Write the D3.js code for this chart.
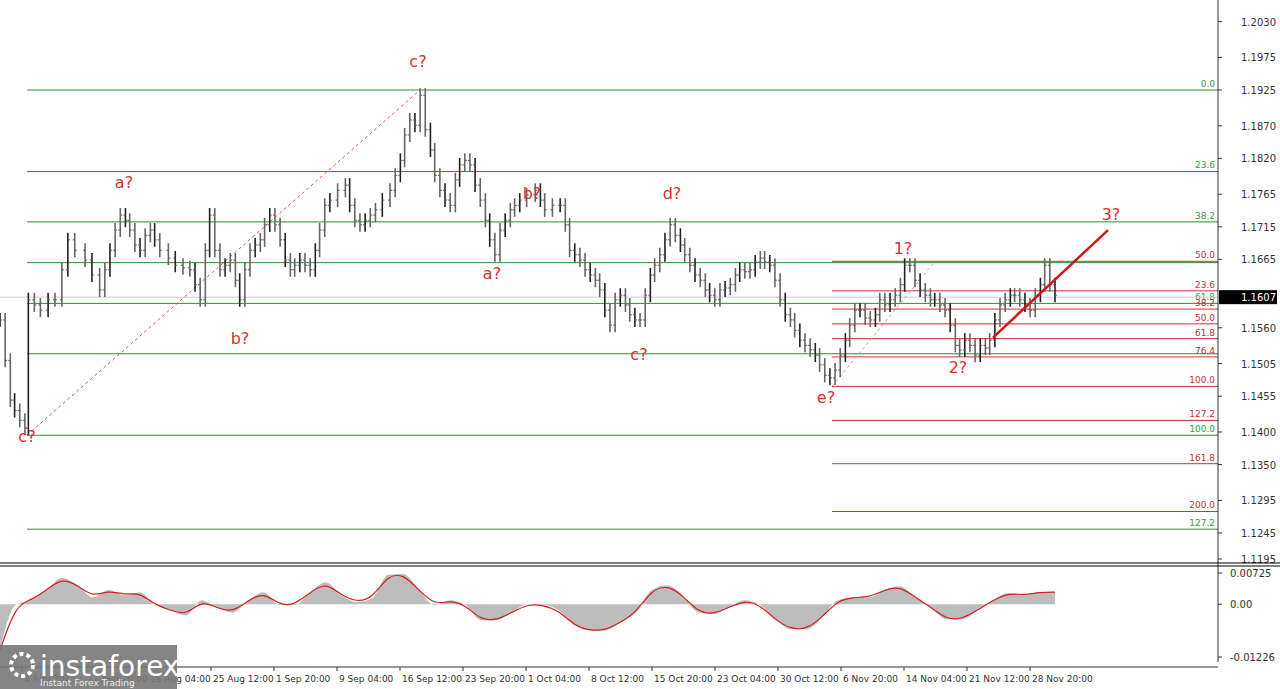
<!DOCTYPE html>
<html><head><meta charset="utf-8">
<script src="https://cdn.jsdelivr.net/npm/d3@7"></script>
<style>body{margin:0;background:#fff}text{font-family:Tahoma,"DejaVu Sans",sans-serif}</style>
</head><body><svg id="chart" width="1280" height="689"></svg>
<script>
// bar times in days since 1 Aug 2025 and closing prices
var barDays = [0,0.6,1.2,1.7,2.3,2.9,3.3,4.0,4.7,5.6,6.4,7.2,7.9,8.7,9.9,10.7,11.6,12.2,12.8,13.4,14.0,14.6,15.1,15.7,16.3,16.9,17.5,18.0,18.6,19.6,20.4,21.3,22.1,22.7,23.3,23.9,24.4,25.0,25.6,26.2,26.8,27.4,27.9,28.5,29.1,29.7,30.3,30.8,31.4,32.0,32.6,33.2,33.8,34.3,34.9,35.5,36.1,36.7,37.2,37.8,38.4,39.3,40.2,40.7,41.3,41.9,42.5,43.1,43.7,44.5,45.4,46.0,46.6,47.1,47.7,48.3,48.9,49.5,50.1,50.6,51.2,51.8,52.4,53.0,53.5,54.1,54.7,55.3,55.9,56.5,57.0,57.6,58.2,58.8,59.4,59.9,60.5,61.3,62.3,62.9,63.4,64.3,65.2,65.8,66.3,66.9,67.5,68.1,68.7,69.3,69.8,70.4,71.0,71.6,72.2,72.8,73.3,73.9,74.5,75.1,75.7,76.2,76.8,77.4,78.0,78.6,79.2,79.7,80.3,80.9,81.5,82.1,82.6,83.2,83.8,84.4,85.0,85.6,86.1,86.7,87.3,87.9,88.5,89.0,89.6,90.2,90.8,91.4,92.0,92.5,93.1,93.7,94.3,94.9,95.4,96.0,96.6,97.2,97.8,98.4,98.9,99.5,100.1,100.7,101.3,101.9,102.4,103.0,103.6,104.2,104.8,105.3,105.9,106.5,107.1,107.7,108.3,108.8,109.4,110.0,110.6,111.2,111.7,112.3,112.9,113.5,114.1,114.7,115.2,115.8,116.4,117.0,117.6,118.1,118.7,119.3,119.9,120.5,121.1,121.6,122.2,122.8];
var closes = [1.1572,1.1510,1.1449,1.1433,1.1418,1.1406,1.1603,1.1595,1.1587,1.1603,1.1603,1.1649,1.1695,1.1679,1.1664,1.1641,1.1618,1.1649,1.1679,1.1710,1.1733,1.1725,1.1710,1.1687,1.1679,1.1702,1.1710,1.1695,1.1679,1.1667,1.1656,1.1652,1.1649,1.1626,1.1603,1.1679,1.1733,1.1679,1.1649,1.1656,1.1664,1.1633,1.1603,1.1649,1.1679,1.1687,1.1695,1.1718,1.1733,1.1718,1.1695,1.1664,1.1649,1.1656,1.1664,1.1656,1.1649,1.1679,1.1710,1.1748,1.1756,1.1771,1.1779,1.1748,1.1725,1.1718,1.1725,1.1733,1.1741,1.1756,1.1771,1.1794,1.1817,1.1856,1.1879,1.1871,1.1917,1.1864,1.1833,1.1794,1.1771,1.1756,1.1748,1.1787,1.1810,1.1817,1.1810,1.1779,1.1756,1.1725,1.1695,1.1672,1.1710,1.1725,1.1741,1.1748,1.1756,1.1764,1.1771,1.1756,1.1741,1.1748,1.1748,1.1718,1.1679,1.1672,1.1664,1.1649,1.1641,1.1633,1.1618,1.1587,1.1564,1.1603,1.1610,1.1595,1.1580,1.1572,1.1572,1.1610,1.1641,1.1656,1.1672,1.1695,1.1718,1.1702,1.1687,1.1672,1.1656,1.1641,1.1633,1.1618,1.1610,1.1603,1.1618,1.1621,1.1626,1.1641,1.1649,1.1646,1.1649,1.1661,1.1667,1.1661,1.1656,1.1633,1.1603,1.1580,1.1572,1.1556,1.1541,1.1533,1.1526,1.1518,1.1503,1.1487,1.1483,1.1495,1.1518,1.1541,1.1564,1.1587,1.1587,1.1575,1.1572,1.1580,1.1603,1.1595,1.1603,1.1610,1.1626,1.1656,1.1656,1.1633,1.1618,1.1610,1.1603,1.1603,1.1595,1.1587,1.1564,1.1533,1.1526,1.1541,1.1533,1.1518,1.1533,1.1529,1.1541,1.1572,1.1595,1.1603,1.1610,1.1610,1.1603,1.1595,1.1587,1.1610,1.1626,1.1656,1.1626,1.1610];
var osc = [-0.0107,-0.0002,0.0009,0.0033,0.0061,0.0044,0.0016,0.0033,0.0021,0.0028,-0.0002,-0.0014,-0.0026,0.0009,-0.0009,-0.0019,0.0009,0.0028,-0.0002,-0.0002,0.0028,0.0051,0.0021,0.0005,0.0014,0.0068,0.0070,0.0033,-0.0002,0.0009,-0.0002,-0.0037,-0.0037,-0.0019,0.0000,-0.0002,-0.0014,-0.0049,-0.0061,-0.0061,-0.0042,-0.0019,0.0033,0.0044,0.0021,-0.0019,-0.0023,-0.0007,0.0009,-0.0002,-0.0037,-0.0058,-0.0058,-0.0030,0.0009,0.0016,0.0016,0.0033,0.0042,0.0016,-0.0007,-0.0035,-0.0035,-0.0014,0.0009,0.0026,0.0021,0.0028,0.0028];
var priceTicks = [1.2030,1.1975,1.1925,1.1870,1.1820,1.1765,1.1715,1.1665,1.1560,1.1505,1.1455,1.1400,1.1350,1.1295,1.1245,1.1195];
var dateTicks = ["4 Aug 2025","11 Aug 20:00","18 Aug 04:00","25 Aug 12:00","1 Sep 20:00","9 Sep 04:00","16 Sep 12:00","23 Sep 20:00","1 Oct 04:00","8 Oct 12:00","15 Oct 20:00","23 Oct 04:00","30 Oct 12:00","6 Nov 20:00","14 Nov 04:00","21 Nov 12:00","28 Nov 20:00"];
var bigFibLevels = [0,23.6,38.2,50,61.8,76.4,100,127.2];
var bigFibLabels = ["0.0","23.6","38.2","","61.8","","100.0","127.2"];
var bigFibFrom = 1.1925, bigFibTo = 1.1395;
var smallFibLevels = [0,23.6,38.2,50,61.8,76.4,100,127.2,161.8,200];
var smallFibFrom = 1.1662, smallFibTo = 1.1470;
var waves = [["c?",1.1960,418],["a?",1.1775,124],["b?",1.1535,240],["b?",1.1758,532],["a?",1.1635,492],["d?",1.1758,672],["c?",1.1510,639],["e?",1.1445,826],["c?",1.1385,27],["1?",1.1673,903],["2?",1.1490,958],["3?",1.1725,1111]];
var lastPrice = 1.1607;

var svg = d3.select("#chart");
var W = 1218;
var y = d3.scaleLinear().domain([1.1925,1.1400]).range([90,432]);
var yo = d3.scaleLinear().domain([0.00725,-0.01226]).range([573,657]);
var x = d3.scaleLinear().domain([0,122.8]).range([0,1055]);
var xo = d3.scaleLinear().domain([0, osc.length-1]).range([0,1055]);
var xd = d3.scaleLinear().domain([0,dateTicks.length-1]).range([22,22+63*16]);

// fib lines
var pb = bigFibLevels.map(l => bigFibFrom + (bigFibTo-bigFibFrom)*l/100);
svg.selectAll(".gf").data(pb).enter().append("line")
  .attr("x1",27).attr("x2",W).attr("y1",d=>y(d)).attr("y2",d=>y(d)).attr("stroke","#2e8b2e");
svg.selectAll(".gft").data(pb).enter().append("text").attr("x",W-3).attr("y",(d)=>y(d)-3)
  .attr("text-anchor","end").attr("font-size",9).attr("fill","#3a9a3a").text((d,i)=>bigFibLabels[i]);
var ps = smallFibLevels.map(l => smallFibFrom + (smallFibTo-smallFibFrom)*l/100);
svg.selectAll(".rf").data(ps).enter().append("line")
  .attr("x1",832).attr("x2",W).attr("y1",d=>y(d)).attr("y2",d=>y(d)).attr("stroke","#d03030");
svg.selectAll(".rft").data(ps).enter().append("text").attr("x",W-3).attr("y",d=>y(d)-3)
  .attr("text-anchor","end").attr("font-size",9).attr("fill","#c83030")
  .text((d,i)=>i==0?"50.0":d3.format(".1f")(smallFibLevels[i]));
svg.append("line").attr("x1",0).attr("x2",W).attr("y1",y(lastPrice)).attr("y2",y(lastPrice)).attr("stroke","#ccc");

// dashed trend lines
svg.append("line").attr("x1",27).attr("y1",y(1.1395)).attr("x2",420).attr("y2",y(1.1925))
  .attr("stroke","#e05050").attr("stroke-dasharray","3,3");
svg.append("line").attr("x1",832).attr("y1",y(1.1470)).attr("x2",935).attr("y2",y(1.1662))
  .attr("stroke","#c8a0a0").attr("stroke-dasharray","3,3");

// bars
var g = svg.append("g");
closes.forEach(function(c,i){
  var p = i ? closes[i-1] : c;
  var hi = Math.max(p,c), lo = Math.min(p,c);
  var xx = x(barDays[i]);
  g.append("line").attr("x1",xx).attr("x2",xx).attr("y1",y(hi)-7).attr("y2",y(lo)+7)
    .attr("stroke",i%3?"#666":"#222").attr("stroke-width",1.6);
  g.append("line").attr("x1",xx-2).attr("x2",xx).attr("y1",y(p)).attr("y2",y(p)).attr("stroke","#555");
  g.append("line").attr("x1",xx).attr("x2",xx+2).attr("y1",y(c)).attr("y2",y(c)).attr("stroke","#555");
});

// thick red line
svg.append("line").attr("x1",993).attr("y1",y(1.1545)).attr("x2",1108).attr("y2",y(1.1710))
  .attr("stroke","#d01818").attr("stroke-width",2.5);

// wave labels
svg.selectAll(".wl").data(waves).enter().append("text").attr("x",d=>d[2]).attr("y",d=>y(d[1]))
  .attr("text-anchor","middle").attr("font-size",16).attr("fill","#d83030").text(d=>d[0]);

// price axis
svg.append("line").attr("x1",W).attr("x2",W).attr("y1",0).attr("y2",662).attr("stroke","#333");
priceTicks.forEach(function(t){
  var ty = Math.min(y(t), 559);
  svg.append("line").attr("x1",W).attr("x2",W+4).attr("y1",ty).attr("y2",ty).attr("stroke","#333");
  svg.append("text").attr("x",W+23).attr("y",ty+4).attr("font-size",10).attr("fill","#333").text(d3.format(".4f")(t));
});
svg.append("rect").attr("x",W+1).attr("y",y(lastPrice)-7).attr("width",58).attr("height",14).attr("fill","#000");
svg.append("text").attr("x",W+23).attr("y",y(lastPrice)+4).attr("font-size",10).attr("fill","#fff").text(lastPrice.toFixed(4));

// separator
svg.append("line").attr("x1",0).attr("x2",1280).attr("y1",563).attr("y2",563).attr("stroke","#000");
svg.append("line").attr("x1",0).attr("x2",1280).attr("y1",566).attr("y2",566).attr("stroke","#000");

// oscillator
svg.append("path").datum(osc).attr("fill","#bdbdbd")
  .attr("d",d3.area().x((d,i)=>xo(i)).y0(yo(0)).y1(d=>yo(d)).curve(d3.curveMonotoneX));
svg.append("path").datum(osc).attr("fill","none").attr("stroke","#d02020").attr("stroke-width",1.2)
  .attr("d",d3.line().x((d,i)=>xo(i)).y(d=>yo(d)).curve(d3.curveBasis));
[0.00725,0,-0.01226].forEach(function(t){
  svg.append("line").attr("x1",W).attr("x2",W+4).attr("y1",yo(t)).attr("y2",yo(t)).attr("stroke","#333");
  svg.append("text").attr("x",W+12).attr("y",yo(t)+4).attr("font-size",10).attr("fill","#333").text(t==0?"0.00":t);
});
svg.append("line").attr("x1",0).attr("x2",W).attr("y1",667).attr("y2",667).attr("stroke","#333");

// date axis
dateTicks.forEach(function(t,i){
  var xx = xd(i);
  svg.append("line").attr("x1",xx).attr("x2",xx).attr("y1",667).attr("y2",671).attr("stroke","#333");
  svg.append("text").attr("x",xx+2).attr("y",682).attr("font-size",9).attr("fill","#333").text(t);
});

// logo
svg.append("rect").attr("x",0).attr("y",645).attr("width",177).attr("height",44).attr("fill","#777").attr("opacity",0.9);
svg.append("circle").attr("cx",22).attr("cy",665).attr("r",11).attr("fill","none").attr("stroke","#fff").attr("stroke-width",4).attr("stroke-dasharray","4,3");
svg.append("text").attr("x",40).attr("y",676).attr("font-size",28).attr("fill","#fff").text("instaforex");
svg.append("text").attr("x",40).attr("y",686).attr("font-size",9).attr("fill","#eee").text("Instant Forex Trading");
</script></body></html>
